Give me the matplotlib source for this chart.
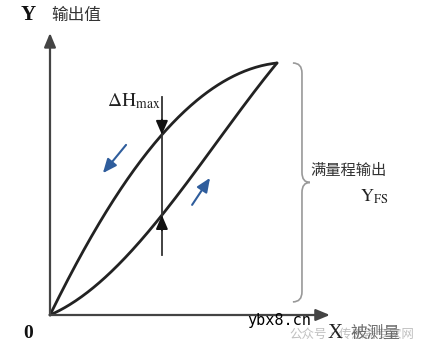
import numpy as np
import matplotlib.pyplot as plt
from matplotlib.path import Path
from matplotlib.patches import PathPatch

plt.rcParams['mathtext.fontset'] = 'stix'

# 迟滞曲线：两条三次贝塞尔曲线的控制点 (x: 输入, y: 输出, 满量程=1)
up_ctrl = [(0, 0), (0.36, 0.14), (0.68, 0.65), (1, 1)]      # 正行程 (下方曲线)
down_ctrl = [(0, 0), (0.24, 0.44), (0.58, 0.96), (1, 1)]    # 反行程 (上方曲线)
x_dh = 0.493          # ΔHmax 所在位置
axis_len = [1.233, 1.119]   # X轴, Y轴 箭头长度

def bezier(ctrl, n=200):
    p = np.array(ctrl, dtype=float)
    t = np.linspace(0, 1, n)[:, None]
    return ((1 - t) ** 3 * p[0] + 3 * (1 - t) ** 2 * t * p[1]
            + 3 * (1 - t) * t ** 2 * p[2] + t ** 3 * p[3])

fig = plt.figure(figsize=(4.27, 3.5), dpi=100)
ax = fig.add_axes([0, 0, 1, 1])
ax.set_xlim(-50 / 227, 377 / 227)
ax.set_ylim(-35 / 252, 315 / 252)
ax.axis('off')

# 坐标轴
axis_kw = dict(arrowstyle='-|>,head_length=0.6,head_width=0.25', lw=1.6,
               color='#444444', shrinkA=0, shrinkB=0, mutation_scale=14)
ax.annotate('', xy=(axis_len[0], 0), xytext=(0, 0), arrowprops=axis_kw)
ax.annotate('', xy=(0, axis_len[1]), xytext=(0, 0), arrowprops=axis_kw)

# 曲线
up = bezier(up_ctrl)
down = bezier(down_ctrl)
ax.plot(up[:, 0], up[:, 1], color='#222222', lw=2.0, solid_capstyle='round')
ax.plot(down[:, 0], down[:, 1], color='#222222', lw=2.0, solid_capstyle='round')

# ΔHmax 竖线和箭头
y_top = np.interp(x_dh, down[:, 0], down[:, 1])
y_bot = np.interp(x_dh, up[:, 0], up[:, 1])
ax.plot([x_dh, x_dh], [0.238, 0.865], color='#333333', lw=1.3)
tri_kw = dict(arrowstyle='-|>,head_length=0.7,head_width=0.3', lw=1.3,
              color='#111111', shrinkA=0, shrinkB=0, mutation_scale=12)
ax.annotate('', xy=(x_dh, y_top), xytext=(x_dh, y_top + 0.06), arrowprops=tri_kw)
ax.annotate('', xy=(x_dh, y_bot), xytext=(x_dh, y_bot - 0.06), arrowprops=tri_kw)

# 方向箭头 (蓝色)
blue_kw = dict(arrowstyle='-|>,head_length=0.7,head_width=0.3', lw=1.5,
               color='#2f5d9c', shrinkA=0, shrinkB=0, mutation_scale=12)
ax.annotate('', xy=(0.233, 0.563), xytext=(0.335, 0.675), arrowprops=blue_kw)
ax.annotate('', xy=(0.705, 0.544), xytext=(0.626, 0.437), arrowprops=blue_kw)

# 右侧大括号
bx, bl, bt = 1.110, 1.070, 1.145
y0, y1 = 0.052, 1.0
ym = (y0 + y1) / 2
verts = [(bl, y1), (bx, y1), (bx, y1 - 0.04),
         (bx, ym + 0.04),
         (bx, ym), (bt, ym),
         (bx, ym), (bx, ym - 0.04),
         (bx, y0 + 0.04),
         (bx, y0), (bl, y0)]
codes = [Path.MOVETO, Path.CURVE3, Path.CURVE3,
         Path.LINETO,
         Path.CURVE3, Path.CURVE3,
         Path.CURVE3, Path.CURVE3,
         Path.LINETO,
         Path.CURVE3, Path.CURVE3]
ax.add_patch(PathPatch(Path(verts, codes), fill=False, edgecolor='#999999', lw=1.2))

# 文字
cjk = ['Noto Sans CJK SC', 'DejaVu Sans']
serif = ['Liberation Serif', 'DejaVu Serif']
ax.text(-22 / 227, 300 / 252, 'Y', fontsize=15, fontweight='bold', family=serif,
        ha='center', va='center', color='#111111')
ax.text(0.115, 300 / 252, '输出值', fontsize=12, family=cjk,
        ha='center', va='center', color='#333333')
ax.text(0.368, 0.85, r'$\Delta\mathrm{H}_{\mathrm{max}}$', fontsize=14,
        ha='center', va='center', color='#222222')
ax.text(1.313, 0.572, '满量程输出', fontsize=11, family=cjk,
        ha='center', va='center', color='#333333')
ax.text(1.43, 0.47, r'$\mathrm{Y}_{\mathrm{FS}}$', fontsize=13,
        ha='center', va='center', color='#222222')
ax.text(-22 / 227, -18 / 252, '0', fontsize=14, fontweight='bold', family=serif,
        ha='center', va='center', color='#111111')

# 水印
ax.text(1.009, -0.02, 'ybx8.cn', fontsize=11, family='DejaVu Sans Mono',
        ha='center', va='center', color='#000000')
ax.text(1.33, -0.075, '公众号·传感器专家网', fontsize=9, family=cjk,
        ha='center', va='center', color='#c0c0c0')
ax.text(1.255, -18 / 252, 'X', fontsize=15, family=serif,
        ha='center', va='center', color='#222222')
ax.text(1.432, -18 / 252, '被测量', fontsize=12, family=cjk,
        ha='center', va='center', color='#555555', alpha=0.85)

fig.savefig('out.png', dpi=100)
